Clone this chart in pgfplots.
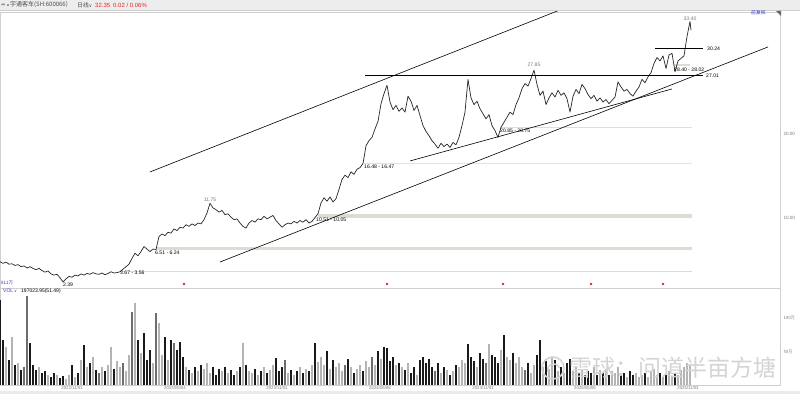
\documentclass[border=0pt]{standalone}
\usepackage{pgfplots}
\pgfplotsset{compat=1.18}
\usepackage{pgfplotstable}
\usepackage{fontspec}
\setmainfont{Liberation Sans}
\newfontfamily\cjk{Noto Sans CJK SC}
\newfontfamily\dejavu{DejaVu Sans}
\definecolor{bandc}{HTML}{DCDCD2}
\definecolor{gridc}{HTML}{D0D0D0}
\definecolor{txtg}{HTML}{7A7A7A}
\definecolor{bluec}{HTML}{3A3AC8}
\definecolor{redc}{HTML}{E8262A}
\definecolor{wm}{HTML}{D4D4D4}
\definecolor{vc0}{HTML}{1A1A1A}
\definecolor{vc1}{HTML}{B4B4B4}
\definecolor{vc2}{HTML}{6E6E6E}
\pgfplotstableread{
x p
0 4.8
3 4.6
6 4.75
9 4.5
12 4.55
15 4.35
18 4.45
21 4.2
24 4.3
27 4.05
30 4.2
33 4.0
36 3.85
39 4.0
42 3.75
45 3.55
48 3.7
51 3.35
54 3.2
57 3.3
60 2.9
63 2.39
66 2.75
69 3.05
72 2.95
75 3.2
78 3.1
81 3.35
84 3.2
87 3.4
90 3.3
93 3.5
96 3.35
99 3.3
102 3.45
105 3.25
108 3.4
111 3.6
114 3.45
117 3.5
120 3.6
123 3.9
126 4.2
129 4.5
132 5.2
135 5.8
138 5.5
141 6.0
144 6.6
147 6.3
150 6.0
153 6.3
156 6.25
159 7.8
162 8.1
165 7.9
168 8.3
171 8.2
174 8.7
177 8.5
180 8.9
183 8.8
186 9.2
189 9.0
192 9.3
195 9.1
198 9.4
201 9.3
204 9.8
207 10.6
210 11.75
213 11.2
216 11.0
219 10.7
222 10.9
225 10.4
228 10.5
231 10.1
234 9.8
237 9.9
240 9.4
243 9.0
246 8.8
249 9.4
252 9.7
255 9.5
258 9.9
261 9.8
264 10.2
267 9.9
270 10.1
273 10.3
276 9.7
279 9.3
282 8.9
285 9.2
288 9.4
291 9.3
294 9.6
297 9.4
300 9.7
303 9.5
306 9.8
309 9.4
312 9.6
315 10.05
318 10.5
321 11.8
324 12.4
327 12.0
330 12.5
333 11.9
336 12.3
339 13.4
342 14.6
345 15.1
348 14.8
351 15.5
354 15.2
357 15.8
360 16.0
363 16.48
366 18.6
369 19.2
372 19.6
375 20.6
378 21.5
381 23.6
384 24.8
387 25.8
390 23.8
393 22.9
396 23.4
399 22.7
402 23.1
405 22.6
408 24.5
411 23.9
414 22.8
417 23.4
420 22.2
423 21.0
426 20.3
429 19.8
432 19.2
435 18.8
438 18.3
441 18.9
444 18.5
447 18.8
450 18.4
453 19.0
456 18.7
459 19.6
462 21.0
465 22.6
468 26.5
471 24.3
474 23.5
477 23.9
480 23.0
483 22.4
486 21.8
489 22.3
492 21.0
495 20.4
498 19.6
501 20.8
504 21.4
507 22.0
510 22.6
513 22.3
516 23.5
519 24.3
522 25.4
525 26.0
528 25.7
531 26.6
534 27.6
537 25.9
540 24.6
543 25.1
546 23.5
549 24.3
552 24.9
555 24.4
558 25.2
561 24.6
564 24.9
567 24.2
570 22.6
573 24.5
576 25.3
579 24.8
582 25.9
585 25.4
588 24.7
591 24.2
594 24.6
597 23.9
600 24.3
603 23.8
606 24.1
609 23.6
612 24.0
615 24.4
618 26.2
621 25.6
624 25.1
627 25.3
630 24.8
633 24.5
636 25.1
639 25.6
642 26.5
645 26.1
648 26.8
651 27.3
654 28.4
657 29.1
660 28.7
663 29.3
666 27.8
669 29.4
672 29.6
675 27.4
678 28.7
681 29.0
684 29.3
687 31.6
690 33.4
691 32.35
}\pricedata
% volume (unit: 10k shares), split by bar colour
\pgfplotstableread{
x v
0 127
3 68
9 38
15 30
21 22
30 63
33 30
36 22
42 18
45 21
51 12
54 18
60 10
63 14
72 30
78 18
84 60
90 33
96 22
105 21
114 24
138 68
144 78
147 38
150 53
165 72
171 68
177 53
180 65
183 42
189 22
195 27
201 30
213 27
216 15
219 24
225 27
231 22
234 15
240 27
246 30
255 24
261 21
267 18
276 40
279 21
282 27
291 22
297 21
303 18
309 21
315 63
327 51
333 37
348 39
354 18
363 21
378 51
384 57
387 55
390 36
393 42
399 33
405 22
411 18
414 27
420 37
423 42
426 33
429 39
432 27
438 33
444 27
450 15
456 30
468 62
471 42
474 36
480 48
483 39
492 45
495 42
498 33
504 75
513 48
528 33
537 45
540 68
546 36
555 37
561 27
567 33
570 39
579 18
585 15
588 21
591 18
597 15
603 18
609 15
621 15
624 18
630 21
633 15
645 18
660 18
666 15
675 18
}\volblack
\pgfplotstableread{
x v
6 57
12 72
18 33
39 27
48 15
57 15
66 9
69 15
75 12
81 37
87 27
93 42
102 27
108 30
111 57
117 36
120 27
126 21
129 45
135 123
141 48
153 33
159 93
162 45
168 38
186 27
192 18
198 21
204 24
207 33
210 18
222 21
228 18
237 21
243 63
249 21
252 18
258 15
264 27
270 22
273 30
288 18
294 15
300 27
306 24
312 30
318 35
321 42
324 30
330 24
336 27
339 33
342 21
351 27
357 24
360 30
366 36
369 27
375 30
381 39
396 30
402 27
408 33
417 15
441 18
447 22
453 21
459 27
462 37
465 33
477 27
489 62
501 53
507 42
510 37
516 33
519 42
522 27
531 18
534 30
543 27
549 24
552 42
558 21
564 18
573 21
576 27
582 24
594 27
600 22
606 24
612 21
615 18
618 27
627 12
636 18
639 12
642 15
648 12
651 21
654 24
657 15
663 12
669 21
672 14
678 15
681 22
684 27
687 33
690 30
}\volgray
\pgfplotstableread{
x v
24 27
27 133
99 18
123 33
132 110
156 108
174 63
285 37
345 30
372 42
435 21
486 33
525 22
}\volmid
\begin{document}
\begin{tikzpicture}
\path[use as bounding box] (0,0) rectangle (800pt,394pt);
\fill[white] (0,0) rectangle (800pt,394pt);
% header strip
\fill[black!7] (0,384pt) rectangle (800pt,394pt);
\draw[gridc, line width=0.5pt] (0,384pt) -- (800pt,384pt);
\fill[black!8] (0,0) rectangle (800pt,3pt);
\node[anchor=west, inner sep=0] at (1pt,389pt) {\dejavu\fontsize{5}{5}\selectfont\color{black!70}⇔};
\fill[bluec] (8pt,389pt) circle (0.9pt);
\node[anchor=west, inner sep=0] at (10pt,389pt) {\cjk\fontsize{6}{6}\selectfont\color{black!70}宇通客车(SH:600066)};
\node[anchor=west, inner sep=0] at (77pt,389pt) {\cjk\fontsize{5.8}{6}\selectfont\color{black!70}日线\dejavu\fontsize{4.5}{5}\selectfont ∨};
\node[anchor=west, inner sep=0] at (95pt,389pt) {\fontsize{6}{6}\selectfont\color{redc}32.35};
\node[anchor=west, inner sep=0] at (113pt,389pt) {\fontsize{6}{6}\selectfont\color{redc}0.02 / 0.06\%};

\begin{axis}[
  at={(0pt,106pt)}, anchor=south west,
  width=780pt, height=276pt, scale only axis,
  xmin=0, xmax=780, ymin=1.667, ymax=34.52,
  axis line style={gridc, line width=0.5pt},
  xtick=\empty, ytick={10,20}, yticklabels={10.00,20.00},
  yticklabel pos=right,
  yticklabel style={font=\fontsize{4.6}{5}\selectfont, text=txtg},
  major tick length=0pt,
  /pgf/number format/assume math mode=true,
  clip=true,
]
% support bands
\addplot[bandc, line width=3.9pt, line cap=butt] coordinates {(318,10.28) (692,10.28)};
\addplot[bandc, line width=2.3pt, line cap=butt] coordinates {(156,6.375) (692,6.375)};
\addplot[bandc, line width=1pt, line cap=butt] coordinates {(120,3.615) (692,3.615)};
\addplot[bandc!80, line width=0.5pt] coordinates {(364,16.475) (692,16.475)};
\addplot[bandc!90, line width=0.8pt] coordinates {(500,20.80) (692,20.80)};
\addplot[bandc, line width=2.5pt, line cap=butt] coordinates {(674,28.21) (690,28.21)};
% price
\addplot[black!85, line width=0.7pt, line join=round] table[x=x, y=p] {\pricedata};
% trend lines
\addplot[black, line width=0.6pt] coordinates {(150,15.48) (565,35.0)};
\addplot[black, line width=0.6pt] coordinates {(220,4.76) (768,30.36)};
\addplot[black, line width=0.6pt] coordinates {(410,16.79) (672,25.36)};
\addplot[black, line width=0.7pt] coordinates {(365,27.01) (703,27.01)};
\addplot[black, line width=0.7pt] coordinates {(655,30.24) (703,30.24)};
% event markers
\addplot[only marks, mark=*, mark size=1.1pt, redc] coordinates {(184,2.14) (387,2.14) (503,2.14) (591,2.14) (663,2.14)};
% annotations
\begin{scope}[every node/.style={font=\fontsize{5.1}{5.5}\selectfont, inner sep=0}]
\node[anchor=center] at (axis cs:68,2.02) {2.39};
\node[anchor=west] at (axis cs:120,3.45) {3.67 - 3.56};
\node[anchor=west] at (axis cs:155,5.83) {6.51 - 6.24};
\node[anchor=center, text=txtg] at (axis cs:210,12.14) {11.75};
\node[anchor=west] at (axis cs:316,9.76) {10.51 - 10.05};
\node[anchor=west] at (axis cs:364,16.07) {16.48 - 16.47};
\node[anchor=west] at (axis cs:500,20.36) {20.85 - 20.75};
\node[anchor=center, text=txtg] at (axis cs:534,28.21) {27.85};
\node[anchor=west] at (axis cs:674,27.62) {28.40 - 28.02};
\node[anchor=west] at (axis cs:706,26.90) {27.01};
\node[anchor=west] at (axis cs:707,30.12) {30.24};
\node[anchor=center, text=txtg] at (axis cs:690,33.69) {33.40};
\end{scope}
\end{axis}

\begin{axis}[
  at={(0pt,9pt)}, anchor=south west,
  width=780pt, height=97pt, scale only axis,
  xmin=0, xmax=780, ymin=0, ymax=145.5,
  axis line style={gridc, line width=0.5pt},
  xtick={72,175,277,380,483,585,688},
  xticklabels={2022/11/01,2023/05/04,2023/11/01,2024/05/06,2024/11/01,2025/05/06,2025/11/03},
  xticklabel style={font=\fontsize{4.3}{5}\selectfont, text=txtg, yshift=2pt},
  ytick={50,100}, yticklabels={50万,100万},
  yticklabel pos=right,
  yticklabel style={font=\cjk\fontsize{4.3}{5}\selectfont, text=txtg},
  major tick length=0pt,
  /pgf/number format/assume math mode=true,
]
\addplot[ycomb, vc1, line width=1.8pt] table[x=x, y=v] {\volgray};
\addplot[ycomb, vc2, line width=1.8pt] table[x=x, y=v] {\volmid};
\addplot[ycomb, vc0, line width=1.8pt] table[x=x, y=v] {\volblack};
\end{axis}

% panel labels
\node[anchor=west, inner sep=0] at (1pt,111pt) {\cjk\fontsize{4.5}{5}\selectfont\color{bluec}811万};
\node[anchor=west, inner sep=0] at (3pt,103pt) {\fontsize{5}{5}\selectfont\color{bluec}VOL\,\dejavu\fontsize{4}{4}\selectfont ∨};
\node[anchor=west, inner sep=0] at (21pt,103pt) {\fontsize{5}{5}\selectfont 197023.95(51.49)};
\node[anchor=west, inner sep=0] at (751pt,381pt) {\cjk\fontsize{4.8}{5}\selectfont\color{bluec}前复权};
\fill[black!60] (776pt,383pt) -- (781pt,383pt) -- (781pt,378pt) -- cycle;
% watermark
\draw[wm, line width=1.6pt] (553pt,26pt) circle (11pt);
\draw[wm, line width=1.4pt] (548pt,22pt) arc (200:20:6pt);
\node[anchor=west, inner sep=0, text=wm] at (569pt,26pt) {\cjk\fontsize{23}{23}\selectfont 雪球：问道半亩方塘};
\end{tikzpicture}
\end{document}
